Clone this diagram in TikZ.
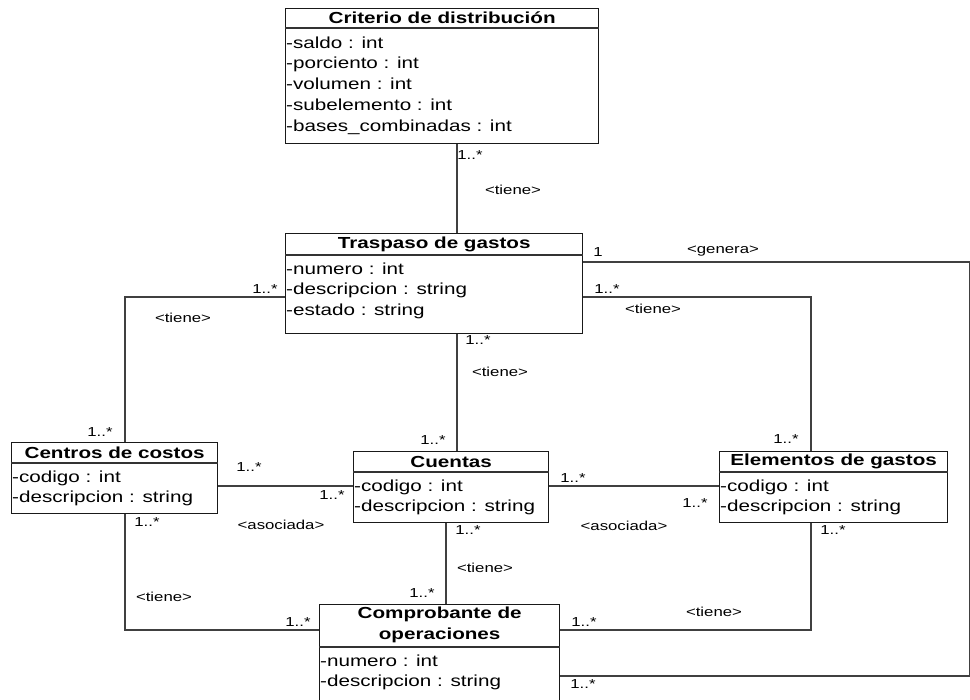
\documentclass[tikz,border=0pt]{standalone}
\usepackage{fontspec}
\setmainfont[FakeStretch=1.29]{Liberation Sans}
\usetikzlibrary{calc}

\begin{document}
\begin{tikzpicture}[x=1pt,y=-1pt,line join=miter,
    classbox/.style={draw=black!90,line width=1.3pt,inner sep=0pt,
                     anchor=north west},
    divider/.style={draw=black!80,line width=1.1pt},
    classname/.style={font=\fontsize{16}{21}\selectfont\bfseries,
                      inner sep=0pt,align=center},
    attrs/.style={font=\fontsize{16}{20.7}\selectfont,inner sep=0pt,
                  align=left,anchor=north west},
    assoc/.style={draw=black!75,line width=1.2pt},
    mult/.style={font=\fontsize{13}{14}\selectfont,inner sep=0pt},
    role/.style={font=\fontsize{13}{14}\selectfont,inner sep=0pt}]
  \fill[white] (0,0) rectangle (970,700);
  \clip (0,0) rectangle (970,700);
  % Clases del modelo
  \node[classbox,minimum width=313,minimum height=135] (crit) at (285,8) {};
  \draw[divider] ([yshift=-20pt]crit.north west) -- ([yshift=-20pt]crit.north east);
  \node[classname] (crit-name) at ([yshift=-10pt]crit.north) {Criterio de distribución};
  \node[attrs] (crit-attr) at ([shift={(1pt,-28.5pt)}]crit.north west)
       {-saldo : int\\-porciento : int\\-volumen : int\\-subelemento : int\\-bases\_combinadas : int};

  \node[classbox,minimum width=297,minimum height=100] (trasp) at (285,233) {};
  \draw[divider] ([yshift=-22pt]trasp.north west) -- ([yshift=-22pt]trasp.north east);
  \node[classname] (trasp-name) at ([yshift=-11pt]trasp.north) {Traspaso de gastos};
  \node[attrs] (trasp-attr) at ([shift={(1pt,-29.5pt)}]trasp.north west)
       {-numero : int\\-descripcion : string\\-estado : string};

  \node[classbox,minimum width=206,minimum height=71] (centros) at (11,442) {};
  \draw[divider] ([yshift=-21pt]centros.north west) -- ([yshift=-21pt]centros.north east);
  \node[classname] (centros-name) at ([yshift=-10.5pt]centros.north) {Centros de costos};
  \node[attrs] (centros-attr) at ([shift={(1pt,-28.5pt)}]centros.north west)
       {-codigo : int\\-descripcion : string};

  \node[classbox,minimum width=195,minimum height=71] (cuentas) at (353,451) {};
  \draw[divider] ([yshift=-21pt]cuentas.north west) -- ([yshift=-21pt]cuentas.north east);
  \node[classname] (cuentas-name) at ([yshift=-10.5pt]cuentas.north) {Cuentas};
  \node[attrs] (cuentas-attr) at ([shift={(1pt,-28.5pt)}]cuentas.north west)
       {-codigo : int\\-descripcion : string};

  \node[classbox,minimum width=228,minimum height=71] (elem) at (719,451) {};
  \draw[divider] ([yshift=-21pt]elem.north west) -- ([yshift=-21pt]elem.north east);
  \node[classname] (elem-name) at ([yshift=-10.5pt]elem.north) {Elementos de gastos};
  \node[attrs] (elem-attr) at ([shift={(1pt,-28.5pt)}]elem.north west)
       {-codigo : int\\-descripcion : string};

  \node[classbox,minimum width=240,minimum height=130] (compr) at (319,604) {};
  \draw[divider] ([yshift=-43pt]compr.north west) -- ([yshift=-43pt]compr.north east);
  \node[classname] (compr-name) at ([yshift=-21pt]compr.north)
       {Comprobante de\\operaciones};
  \node[attrs] (compr-attr) at ([shift={(1pt,-50.5pt)}]compr.north west)
       {-numero : int\\-descripcion : string};

  % Asociaciones
  \draw[assoc] (crit.south -| 457,0) -- (trasp.north -| 457,0);
  \draw[assoc] (trasp.east |- 0,262) -- (970,262) -- (970,676)
       -- (compr.east |- 0,676);
  \draw[assoc] (trasp.east |- 0,297) -| (elem.north -| 811,0);
  \draw[assoc] (trasp.west |- 0,297) -| (centros.north -| 125,0);
  \draw[assoc] (trasp.south -| 457,0) -- (cuentas.north -| 457,0);
  \draw[assoc] (centros.east |- 0,486) -- (cuentas.west |- 0,486);
  \draw[assoc] (cuentas.east |- 0,486) -- (elem.west |- 0,486);
  \draw[assoc] (cuentas.south -| 446,0) -- (compr.north -| 446,0);
  \draw[assoc] (centros.south -| 125,0) |- (compr.west |- 0,630);
  \draw[assoc] (elem.south -| 811,0) |- (compr.east |- 0,630);

  % Multiplicidades y nombres de roles
  \node[mult] (m-crit) at (470,155) {1..*};
  \node[role] (r-crit) at (513,190) {<tiene>};
  \node[mult] (m-gen) at (598,252) {1};
  \node[role] (r-gen) at (723,251) {<genera>};
  \node[mult] (m-gen2) at (583,684) {1..*};
  \node[mult] (m-te1) at (607,289) {1..*};
  \node[role] (r-te) at (653,309) {<tiene>};
  \node[mult] (m-te2) at (786,439) {1..*};
  \node[mult] (m-tc1) at (265,289) {1..*};
  \node[role] (r-tc) at (183,318) {<tiene>};
  \node[mult] (m-tc2) at (100,432) {1..*};
  \node[mult] (m-tq1) at (478,340) {1..*};
  \node[role] (r-tq) at (500,372) {<tiene>};
  \node[mult] (m-tq2) at (433,440) {1..*};
  \node[mult] (m-cq1) at (249,467) {1..*};
  \node[mult] (m-cq2) at (332,495) {1..*};
  \node[role] (r-cq) at (281,525) {<asociada>};
  \node[mult] (m-qe1) at (573,478) {1..*};
  \node[mult] (m-qe2) at (695,503) {1..*};
  \node[role] (r-qe) at (624,526) {<asociada>};
  \node[mult] (m-qo1) at (468,530) {1..*};
  \node[role] (r-qo) at (485,568) {<tiene>};
  \node[mult] (m-qo2) at (422,593) {1..*};
  \node[mult] (m-co1) at (147,522) {1..*};
  \node[role] (r-co) at (164,597) {<tiene>};
  \node[mult] (m-co2) at (298,622) {1..*};
  \node[mult] (m-eo1) at (833,530) {1..*};
  \node[role] (r-eo) at (714,612) {<tiene>};
  \node[mult] (m-eo2) at (584,622) {1..*};
\end{tikzpicture}
\end{document}
